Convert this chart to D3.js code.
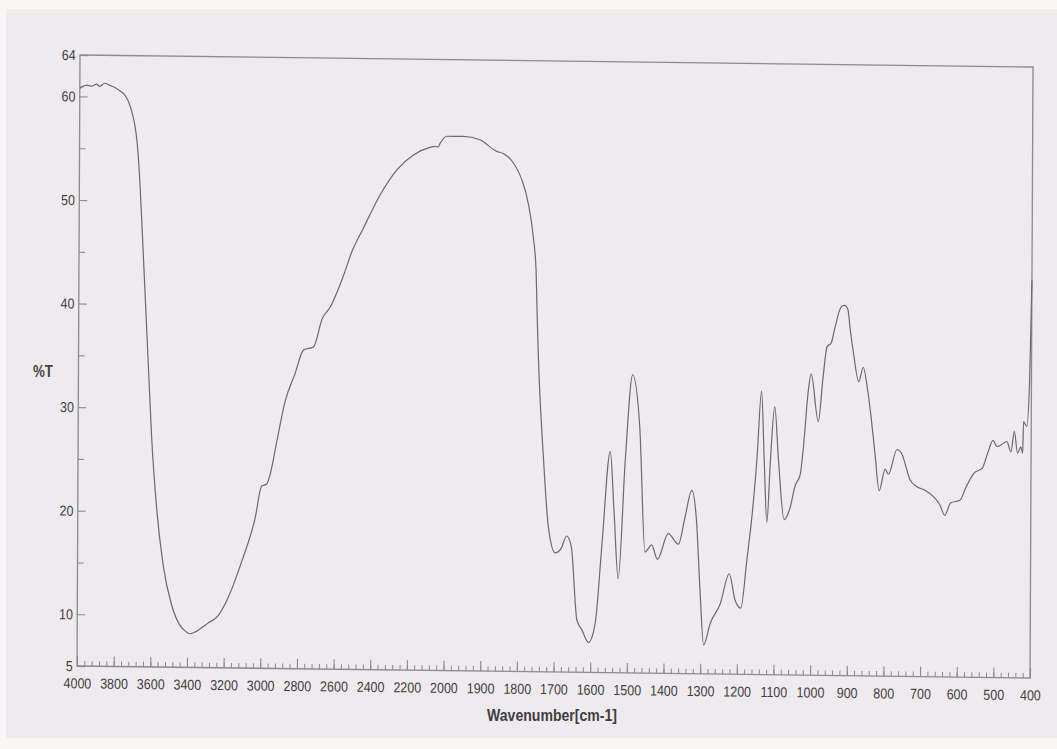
<!DOCTYPE html>
<html>
<head>
<meta charset="utf-8">
<script src="https://cdn.jsdelivr.net/npm/d3@7/dist/d3.min.js"></script>
<style>
  html, body { margin: 0; padding: 0; background: #f8f7f6; }
  svg { display: block; }
</style>
</head>
<body>
<svg id="chart" width="1057" height="749"></svg>
<script>
// FT-IR spectrum: wavenumber (cm-1) against transmittance (%T)
const wavenumber = [
  4000, 3991, 3963, 3936, 3909, 3891, 3864, 3836, 3809, 3782,
  3760, 3735, 3710, 3698, 3687, 3676, 3659, 3639, 3619, 3599,
  3569, 3533, 3487, 3441, 3410, 3386, 3360, 3340, 3286, 3232,
  3177, 3104, 3032, 2997, 2970, 2952, 2917, 2873, 2818, 2772,
  2718, 2672, 2627, 2557, 2510, 2450, 2359, 2268, 2178, 2088,
  2060, 2045, 2030, 1998, 1953, 1908, 1862, 1844, 1816, 1793,
  1775, 1761, 1753, 1749, 1745, 1730, 1716, 1697, 1680, 1666,
  1653, 1637, 1623, 1605, 1587, 1570, 1548, 1537, 1525, 1507,
  1488, 1468, 1452, 1434, 1418, 1389, 1361, 1343, 1325, 1312,
  1301, 1291, 1273, 1246, 1222, 1206, 1190, 1174, 1159, 1148,
  1136, 1128, 1120, 1111, 1100, 1089, 1073, 1058, 1043, 1030,
  1020, 1010, 1001, 981, 969, 958, 947, 938, 920, 911,
  902, 895, 886, 871, 859, 848, 837, 826, 814, 798,
  789, 766, 753, 730, 712, 689, 666, 648, 635, 619,
  593, 579, 556, 533, 519, 504, 493, 466, 455, 446,
  437, 428, 423, 421, 412, 405, 400
];
const transmittance = [
  60.8, 60.9, 61.1, 61.0, 61.2, 61.0, 61.3, 61.1, 60.9, 60.6,
  60.3, 59.6, 58.2, 57.2, 55.8, 53.5, 48.2, 41.2, 34.2, 27.2,
  20.2, 14.9, 11.1, 9.1, 8.5, 8.25, 8.4, 8.6, 9.3, 10.0,
  11.8, 15.3, 19.5, 22.6, 22.8, 23.7, 26.8, 30.7, 33.5, 35.8,
  36.1, 38.8, 40.0, 43.0, 45.4, 47.6, 50.85, 53.3, 54.75, 55.5,
  55.6, 55.55, 56.0, 56.6, 56.6, 56.3, 55.2, 55.0, 54.1, 52.5,
  50.2, 47.0, 43.8, 39.0, 35.0, 25.5, 19.0, 16.5, 17.0, 18.15,
  17.1, 10.05, 9.1, 7.9, 9.75, 17.15, 26.35, 20.6, 14.1, 25.55,
  33.8, 28.8, 16.7, 17.4, 16.0, 18.5, 17.5, 20.15, 22.7, 19.8,
  12.8, 7.8, 9.9, 11.8, 14.7, 12.2, 11.4, 16.05, 20.9, 25.7,
  32.4, 25.7, 19.7, 25.7, 30.9, 25.7, 20.0, 21.0, 23.3, 24.3,
  27.5, 32.0, 34.1, 29.5, 33.6, 36.75, 37.1, 38.4, 40.6, 40.75,
  40.4, 38.4, 36.2, 33.4, 34.8, 32.9, 30.0, 26.5, 22.9, 25.0,
  24.5, 26.9, 26.5, 24.0, 23.35, 23.0, 22.4, 21.6, 20.6, 21.8,
  22.1, 23.2, 24.7, 25.2, 26.6, 27.9, 27.3, 27.8, 26.8, 28.8,
  26.7, 27.3, 26.7, 29.75, 29.3, 33.8, 43.4
];

// Axis ticks: 200 cm-1 steps above 2000, 100 cm-1 steps below
const xMajorTicks = [4000, 3800, 3600, 3400, 3200, 3000, 2800, 2600, 2400, 2200, 2000,
  1900, 1800, 1700, 1600, 1500, 1400, 1300, 1200, 1100, 1000, 900, 800, 700, 600, 500, 400];
const yLabelTicks = [5, 10, 20, 30, 40, 50, 60, 64];
const yPlainTicks = [15, 25, 35, 45, 55];
const xTitle = "Wavenumber[cm-1]";
const yTitle = "%T";

const svg = d3.select("#chart");
const FONT = "'Liberation Sans', Arial, sans-serif";

// paper sheet
svg.append("rect")
  .attr("x", 6).attr("y", 9)
  .attr("width", 1051).attr("height", 729)
  .attr("fill", "#eeeaee");

const W = 953, H = 611;
const step = W / 26;
const x = d3.scaleLinear().domain([4000, 2000, 400]).range([0, 10 * step, W]);
const y = d3.scaleLinear().domain([5, 64]).range([H, 0]);

// the printed sheet sits slightly askew on the page
const g = svg.append("g")
  .attr("transform", `matrix(1,${12 / 953},${-3 / 611},1,80,55)`);

// minor wavenumber ticks: five per labelled interval
const xMinorTicks = d3.range(4000, 2000, -40).concat(d3.range(2000, 399, -20));

const axisColor = "#8b8b8b";
const textColor = "#404040";

const minorX = g.append("g").attr("transform", `translate(0,${H})`)
  .call(d3.axisBottom(x).tickValues(xMinorTicks).tickSize(-5).tickFormat(""));
minorX.select(".domain").remove();
minorX.selectAll("line").attr("stroke", axisColor).attr("stroke-width", 1);

const majorX = g.append("g").attr("transform", `translate(0,${H})`)
  .call(d3.axisBottom(x).tickValues(xMajorTicks).tickSize(-10).tickPadding(12)
    .tickFormat(d3.format("d")));
majorX.select(".domain").remove();
majorX.selectAll("line").attr("stroke", axisColor).attr("stroke-width", 1.1);
majorX.selectAll("text")
  .attr("font-family", FONT).attr("font-size", 14.5).attr("fill", textColor)
  .attr("transform", "scale(0.86,1)");

const plainY = g.append("g")
  .call(d3.axisLeft(y).tickValues(yPlainTicks).tickSize(-6).tickFormat(""));
plainY.select(".domain").remove();
plainY.selectAll("line").attr("stroke", axisColor).attr("stroke-width", 1.1);

const labelY = g.append("g")
  .call(d3.axisLeft(y).tickValues(yLabelTicks).tickSize(-8).tickPadding(5)
    .tickFormat(d3.format("d")));
labelY.select(".domain").remove();
labelY.selectAll("line").attr("stroke", axisColor).attr("stroke-width", 1.1);
labelY.selectAll("text")
  .attr("font-family", FONT).attr("font-size", 14.5).attr("fill", textColor)
  .attr("transform", "scale(0.86,1)");

// plot frame
g.append("rect")
  .attr("x", 0).attr("y", 0).attr("width", W).attr("height", H)
  .attr("fill", "none").attr("stroke", axisColor).attr("stroke-width", 1.3);

// spectrum trace
const points = wavenumber.map((w, i) => [w, transmittance[i]]);
g.append("path")
  .datum(points)
  .attr("fill", "none")
  .attr("stroke", "#6a6a6a")
  .attr("stroke-width", 1.2)
  .attr("stroke-linejoin", "round")
  .attr("d", d3.line().x(d => x(d[0])).y(d => y(d[1])).curve(d3.curveMonotoneX));

// axis titles
svg.append("text")
  .attr("x", 33).attr("y", 377)
  .attr("font-family", FONT).attr("font-weight", "bold").attr("font-size", 16)
  .attr("fill", "#444")
  .attr("textLength", 20).attr("lengthAdjust", "spacingAndGlyphs")
  .text(yTitle);

svg.append("text")
  .attr("x", 487).attr("y", 721)
  .attr("font-family", FONT).attr("font-weight", "bold").attr("font-size", 17)
  .attr("fill", "#3e3e3e")
  .attr("textLength", 130).attr("lengthAdjust", "spacingAndGlyphs")
  .text(xTitle);
</script>
</body>
</html>
